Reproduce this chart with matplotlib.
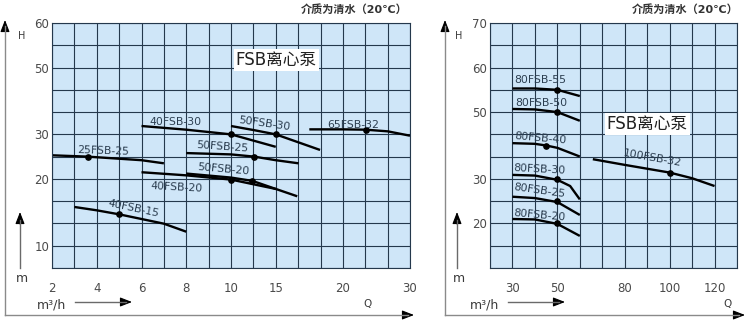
import numpy as np
import matplotlib.pyplot as plt
from matplotlib.lines import Line2D
from matplotlib.patches import FancyArrowPatch

plt.rcParams['font.family'] = ['DejaVu Sans', 'Noto Sans CJK SC']

# ---- chart axes: uniform grid, labelled with unevenly spaced values ----
LEFT_Q_TICKS = [2, 4, 6, 8, 10, 15, 20, 30]
LEFT_Q_GRID = [0, 2, 4, 6, 8, 10, 13, 16]
LEFT_H_TICKS = [10, 20, 30, 50, 60]
LEFT_H_GRID = [1, 4, 6, 9, 11]

RIGHT_Q_TICKS = [30, 50, 80, 100, 120]
RIGHT_Q_GRID = [1, 3, 6, 8, 10]
RIGHT_H_TICKS = [20, 30, 50, 60, 70]
RIGHT_H_GRID = [2, 4, 7, 9, 11]

# ---- pump curves, left chart (Q in m3/h, H in m) ----
Q_25FSB_25 = [2, 3.6, 6, 7]
H_25FSB_25 = [25.3, 25.0, 24.2, 23.5]
Q_40FSB_30 = [6, 8, 10, 12.5, 15]
H_40FSB_30 = [32.5, 31.4, 30.0, 28.6, 27.2]
Q_50FSB_30 = [10, 12.5, 15, 18.3]
H_50FSB_30 = [32.5, 31.3, 30.0, 26.5]
Q_65FSB_32 = [17.5, 20, 23.4, 26.7, 30]
H_65FSB_32 = [31.5, 31.5, 31.4, 30.9, 29.7]
Q_50FSB_25 = [8, 10, 12.6, 15, 16.7]
H_50FSB_25 = [25.8, 25.5, 25.0, 24.2, 23.5]
Q_50FSB_20 = [8, 10, 12.4, 15, 16.6]
H_50FSB_20 = [21.2, 20.3, 19.7, 18.5, 17.4]
Q_40FSB_20 = [6, 8, 10, 12.5, 15]
H_40FSB_20 = [21.5, 20.8, 19.9, 19.2, 18.5]
Q_40FSB_15 = [3, 4, 5, 7, 8]
H_40FSB_15 = [15.8, 15.3, 14.7, 13.3, 12.1]

# duty points, left chart
DUTY_Q_LEFT = [3.6, 10, 15, 23.4, 12.6, 12.4, 10, 5]
DUTY_H_LEFT = [25.0, 30.0, 30.0, 31.4, 25.0, 19.7, 19.9, 14.7]

# ---- pump curves, right chart ----
Q_80FSB_55 = [30, 40, 50, 60]
H_80FSB_55 = [55.3, 55.3, 55.0, 53.6]
Q_80FSB_50 = [30, 40, 50, 60]
H_80FSB_50 = [50.7, 50.6, 50.0, 47.4]
Q_80FSB_40 = [30, 40, 45, 50, 60]
H_80FSB_40 = [40.7, 40.5, 40.0, 39.3, 36.7]
Q_80FSB_30 = [30, 40, 50, 55.7, 60]
H_80FSB_30 = [31.2, 31.0, 29.8, 28.4, 25.4]
Q_80FSB_25 = [30, 40, 50, 60]
H_80FSB_25 = [26.0, 25.7, 24.8, 21.9]
Q_80FSB_20 = [30, 40, 50, 60]
H_80FSB_20 = [21.0, 20.9, 19.9, 17.2]
Q_100FSB_32 = [65.8, 80, 100, 110, 120]
H_100FSB_32 = [35.9, 34.2, 31.9, 30.2, 28.4]

DUTY_Q_RIGHT = [50, 50, 45, 50, 50, 50, 100]
DUTY_H_RIGHT = [55.0, 50.0, 40.0, 30.0, 25.0, 20.0, 31.9]

TITLE = "FSB离心泵"
NOTE = "介质为清水（20℃）"

BG = '#cfe6f8'
GRID = '#24384c'
TXT = '#3a3a3a'
LAB = '#2c3e50'

W, HP = 745, 321


def fx(px):
    return px / W


def fy(py):
    return 1 - py / HP


def piecewise(xp, fp):
    xp = np.asarray(xp, float)
    fp = np.asarray(fp, float)

    def f(v):
        v = np.asarray(v, float)
        out = np.interp(v, xp, fp)
        lo_slope = (fp[1] - fp[0]) / (xp[1] - xp[0])
        hi_slope = (fp[-1] - fp[-2]) / (xp[-1] - xp[-2])
        out = np.where(v < xp[0], fp[0] + (v - xp[0]) * lo_slope, out)
        out = np.where(v > xp[-1], fp[-1] + (v - xp[-1]) * hi_slope, out)
        return out
    return f


def setup_axes(ax, qt, qg, ht, hg, ncol, nrow):
    qf, qi = piecewise(qt, qg), piecewise(qg, qt)
    hf, hi = piecewise(ht, hg), piecewise(hg, ht)
    ax.set_xscale('function', functions=(qf, qi))
    ax.set_yscale('function', functions=(hf, hi))
    ax.set_xlim(float(qi(0)), float(qi(ncol)))
    ax.set_ylim(float(hi(0)), float(hi(nrow)))
    ax.set_xticks(qt)
    ax.set_xticklabels([str(t) for t in qt])
    ax.set_yticks(ht)
    ax.set_yticklabels([str(t) for t in ht])
    ax.set_xticks([float(qi(i)) for i in range(ncol + 1)], minor=True)
    ax.set_yticks([float(hi(i)) for i in range(nrow + 1)], minor=True)
    ax.xaxis.set_minor_formatter(plt.NullFormatter())
    ax.yaxis.set_minor_formatter(plt.NullFormatter())
    ax.set_facecolor(BG)
    ax.grid(True, which='both', color=GRID, lw=0.8)
    ax.tick_params(which='both', length=0, labelsize=8.5, labelcolor='#4a4a4a')
    ax.tick_params(axis='x', pad=10)
    ax.tick_params(axis='y', pad=2)
    for s in ax.spines.values():
        s.set_color(GRID)
        s.set_linewidth(0.8)
    ax.set_axisbelow(True)


def curve(ax, q, h):
    ax.plot(q, h, color='black', lw=1.7, solid_capstyle='butt')


def label(ax, x, y, s, rot=0):
    ax.text(x, y, s, transform=ax.transAxes, ha='center', va='center',
            fontsize=7.8, color=LAB, rotation=rot)


def frame_line(x0, y0, x1, y1, color='#8a8a8a', lw=1.0):
    fig.add_artist(Line2D([fx(x0), fx(x1)], [fy(y0), fy(y1)],
                          transform=fig.transFigure, color=color, lw=lw))


def arrow_head(x0, y0, x1, y1, scale=8):
    fig.add_artist(FancyArrowPatch((fx(x0), fy(y0)), (fx(x1), fy(y1)),
                                   transform=fig.transFigure,
                                   arrowstyle='-|>,head_length=0.9,head_width=0.35',
                                   mutation_scale=scale, color='black', lw=0.8,
                                   shrinkA=0, shrinkB=0))


def ftext(px, py, s, **kw):
    kw.setdefault('fontsize', 8)
    kw.setdefault('color', TXT)
    kw.setdefault('ha', 'center')
    kw.setdefault('va', 'center')
    fig.text(fx(px), fy(py), s, **kw)


fig = plt.figure(figsize=(7.45, 3.21), dpi=100)

axL = fig.add_axes([fx(52), fy(268), (410 - 52) / W, (268 - 23) / HP])
axR = fig.add_axes([fx(490), fy(268), (737 - 490) / W, (268 - 23) / HP])

setup_axes(axL, LEFT_Q_TICKS, LEFT_Q_GRID, LEFT_H_TICKS, LEFT_H_GRID, 16, 11)
setup_axes(axR, RIGHT_Q_TICKS, RIGHT_Q_GRID, RIGHT_H_TICKS, RIGHT_H_GRID, 11, 11)

for q, h in [(Q_25FSB_25, H_25FSB_25), (Q_40FSB_30, H_40FSB_30),
             (Q_50FSB_30, H_50FSB_30), (Q_65FSB_32, H_65FSB_32),
             (Q_50FSB_25, H_50FSB_25), (Q_50FSB_20, H_50FSB_20),
             (Q_40FSB_20, H_40FSB_20), (Q_40FSB_15, H_40FSB_15)]:
    curve(axL, q, h)
axL.plot(DUTY_Q_LEFT, DUTY_H_LEFT, 'o', color='black', ms=3.8, zorder=3)

for q, h in [(Q_80FSB_55, H_80FSB_55), (Q_80FSB_50, H_80FSB_50),
             (Q_80FSB_40, H_80FSB_40), (Q_80FSB_30, H_80FSB_30),
             (Q_80FSB_25, H_80FSB_25), (Q_80FSB_20, H_80FSB_20),
             (Q_100FSB_32, H_100FSB_32)]:
    curve(axR, q, h)
axR.plot(DUTY_Q_RIGHT, DUTY_H_RIGHT, 'o', color='black', ms=3.8, zorder=3)

# curve names
label(axL, 0.142, 0.478, "25FSB-25", -2)
label(axL, 0.344, 0.597, "40FSB-30")
label(axL, 0.592, 0.590, "50FSB-30", -8)
label(axL, 0.841, 0.585, "65FSB-32")
label(axL, 0.477, 0.496, "50FSB-25", -4)
label(axL, 0.480, 0.403, "50FSB-20", -5)
label(axL, 0.349, 0.328, "40FSB-20", -3)
label(axL, 0.227, 0.245, "40FSB-15", -12)

label(axR, 0.202, 0.768, "80FSB-55")
label(axR, 0.206, 0.675, "80FSB-50")
label(axR, 0.206, 0.530, "80FSB-40", -5)
label(axR, 0.202, 0.402, "80FSB-30", -3)
label(axR, 0.202, 0.315, "80FSB-25", -8)
label(axR, 0.202, 0.215, "80FSB-20", -5)
label(axR, 0.656, 0.447, "100FSB-32", -10)

box = dict(facecolor='white', edgecolor='none', pad=1.5)
axL.text(0.626, 0.849, TITLE, transform=axL.transAxes, ha='center', va='center',
         fontsize=12, color='#222222', bbox=box)
axR.text(0.636, 0.588, TITLE, transform=axR.transAxes, ha='center', va='center',
         fontsize=12, color='#222222', bbox=box)

# notes at the top right of each chart
ftext(408, 9, NOTE, ha='right', fontsize=8, fontweight='bold', color='#333333')
ftext(739, 9, NOTE, ha='right', fontsize=8, fontweight='bold', color='#333333')

# outer frames with arrows, and axis captions
for x_frame, x_end, x_m, x_unit, x_arr0, x_arr1, x_q in [
        (5, 414, 20, 52, 75, 132, 368),
        (445, 745, 457, 485, 508, 565, 727)]:
    frame_line(x_frame, 315, x_frame, 26)
    arrow_head(x_frame, 30, x_frame, 20)
    frame_line(x_frame, 315, x_end - 6, 315)
    arrow_head(x_end - 10, 315, x_end, 315)
    frame_line(x_m, 268, x_m, 220, color='#6a6a6a')
    arrow_head(x_m, 224, x_m, 212)
    frame_line(x_arr0, 302, x_arr1 - 6, 302, color='#6a6a6a')
    arrow_head(x_arr1 - 10, 302, x_arr1, 302)
    ftext(x_m + 2, 36, "H", fontsize=7)
    ftext(x_m + 2, 279, "m", fontsize=9)
    ftext(x_unit, 305, "m³/h", fontsize=9)
    ftext(x_q, 304, "Q", fontsize=7.5)

fig.savefig('out.png', dpi=100)
